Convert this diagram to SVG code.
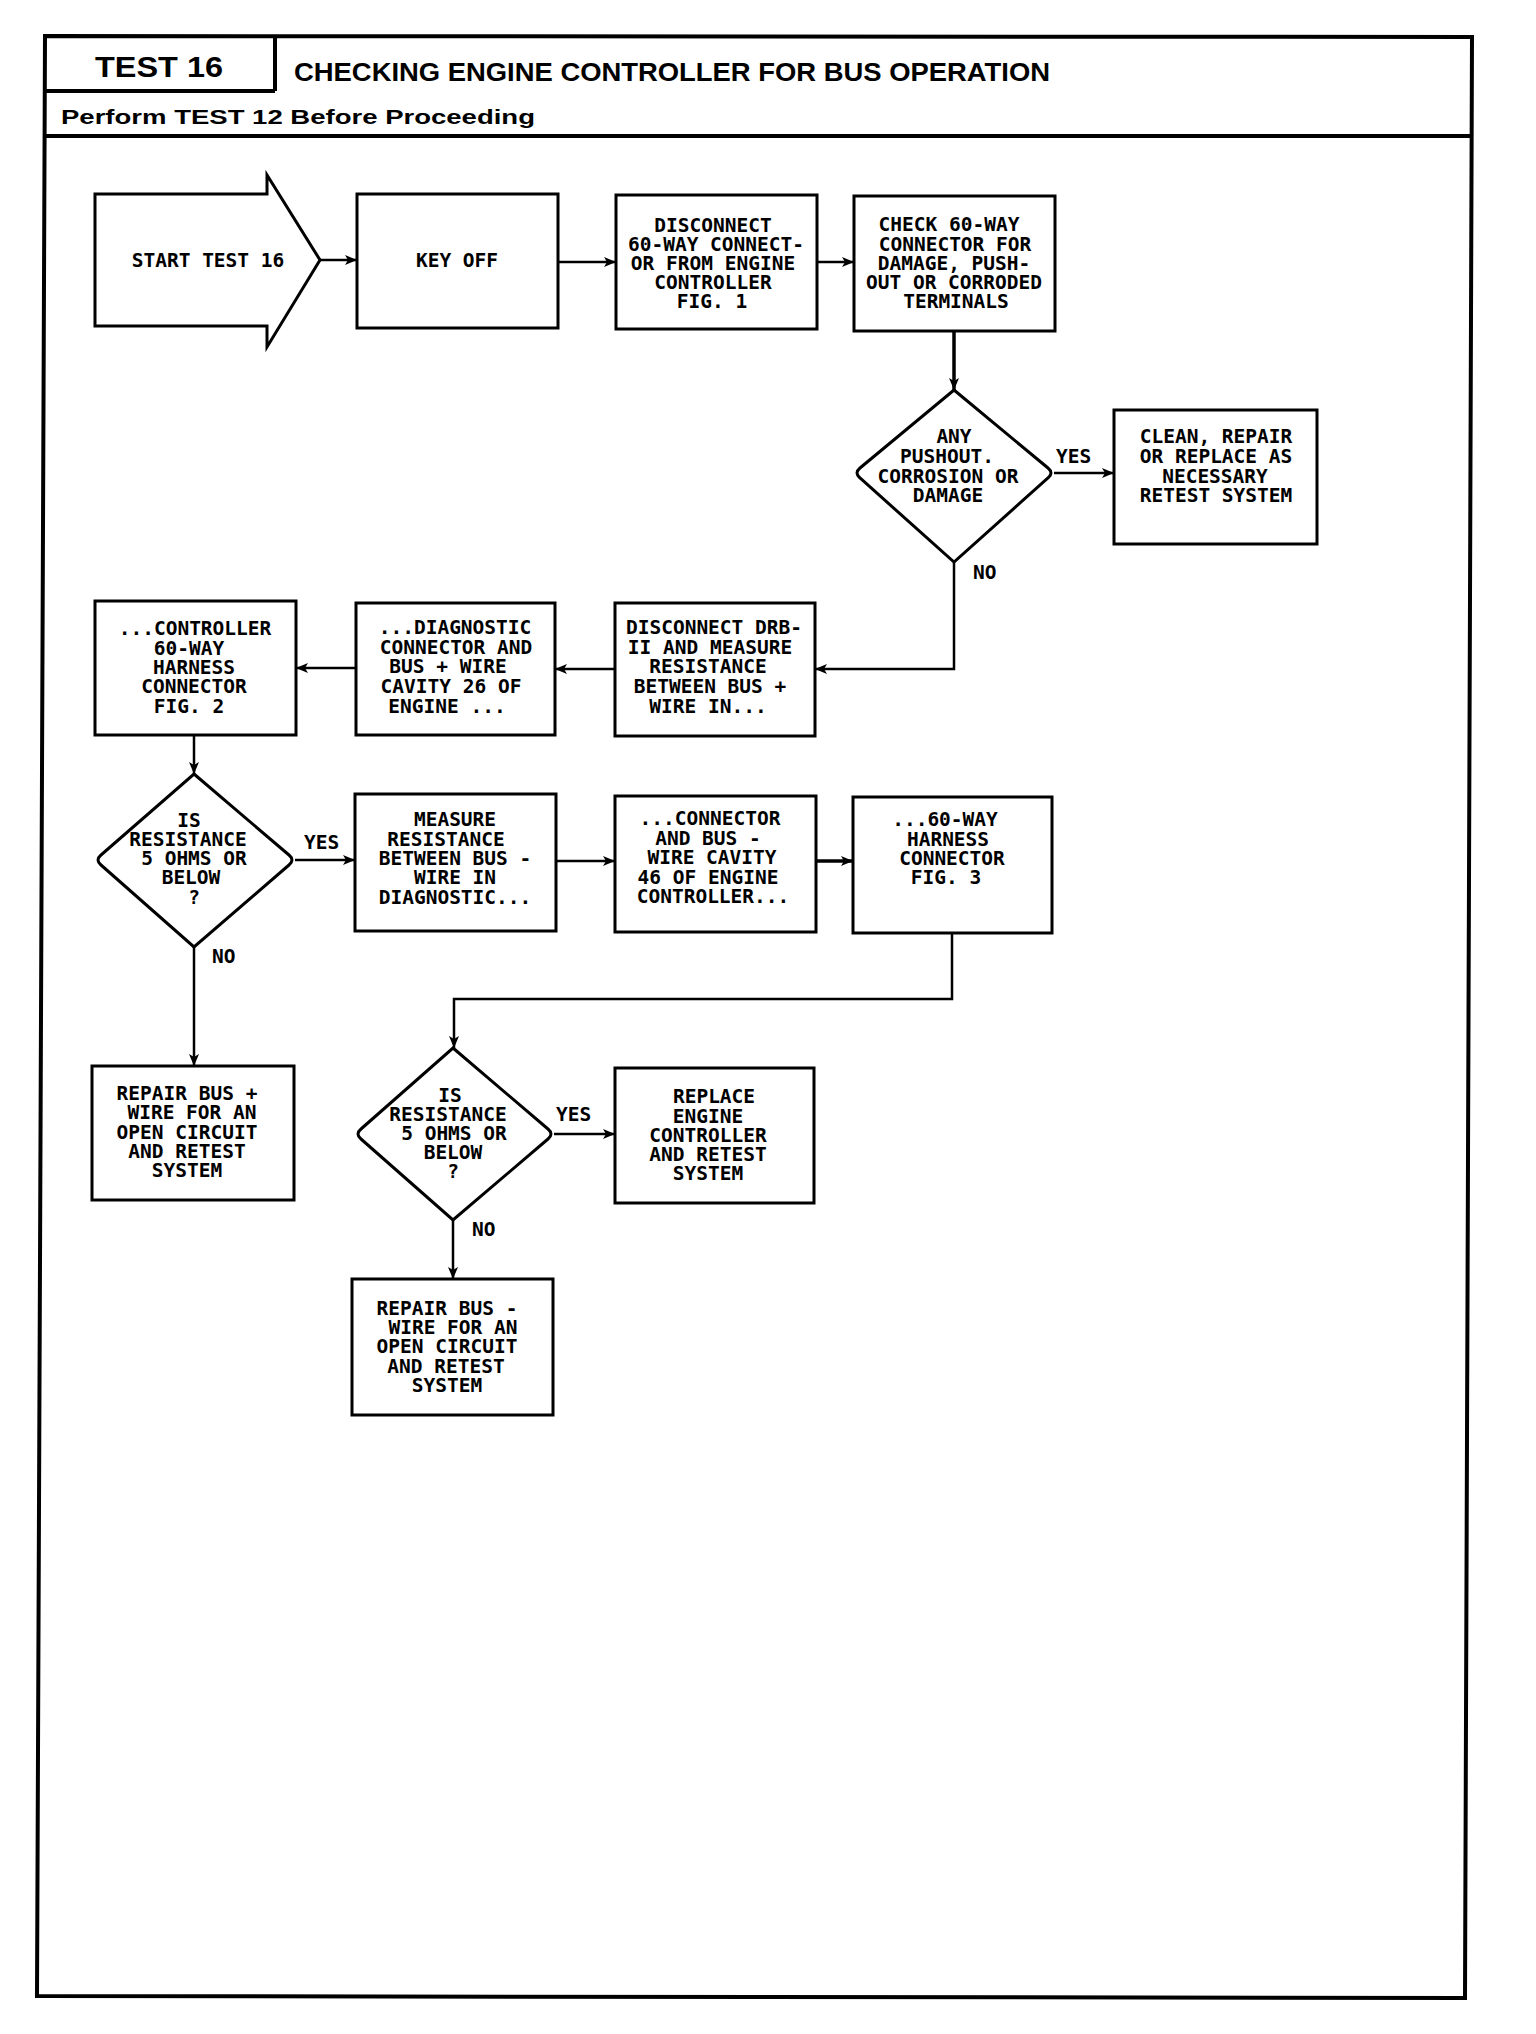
<svg xmlns="http://www.w3.org/2000/svg" width="1536" height="2034" viewBox="0 0 1536 2034">
<style>
.frame{fill:none;stroke:#000;stroke-width:4}
.box{fill:none;stroke:#000;stroke-width:3}
.t{font-family:"DejaVu Sans Mono","Liberation Mono",monospace;font-size:19.5px;font-weight:bold;text-anchor:middle;fill:#000}
.lbl{font-family:"DejaVu Sans Mono","Liberation Mono",monospace;font-size:19.5px;font-weight:bold;fill:#000}
.hd{font-family:"Liberation Sans",Arial,sans-serif;font-weight:bold;fill:#000}
#connectors path{fill:none;stroke:#000;stroke-width:2.5}
</style>
<defs>
<marker id="arr" markerUnits="userSpaceOnUse" markerWidth="14" markerHeight="12" refX="12" refY="6" orient="auto">
<path d="M0,1 L12,6 L0,11 L3,6 Z" fill="#000"/>
</marker>
</defs>
<rect x="0" y="0" width="1536" height="2034" fill="#fff"/>
<g id="frame">
<path class="frame" d="M45,36 L1472,37 L1465,1998 L37,1996 Z"/>
<path class="frame" d="M275,36 L275,91 M44,91 L275,91 M44,136 L1472,136"/>
<text class="hd" x="95" y="77" font-size="30" textLength="128" lengthAdjust="spacingAndGlyphs">TEST 16</text>
<text class="hd" x="294" y="81" font-size="26.5" textLength="756" lengthAdjust="spacingAndGlyphs">CHECKING ENGINE CONTROLLER FOR BUS OPERATION</text>
<text class="hd" x="61" y="124" font-size="21" textLength="474" lengthAdjust="spacingAndGlyphs">Perform TEST 12 Before Proceeding</text>
</g>
<g id="connectors">
<path d="M320,260 L357,260" marker-end="url(#arr)"/>
<path d="M558,262 L616,262" marker-end="url(#arr)"/>
<path d="M817,262 L854,262" marker-end="url(#arr)"/>
<path d="M954,331 L954,390" marker-end="url(#arr)" style="stroke-width:3.5"/>
<path d="M1054,473 L1114,473" marker-end="url(#arr)"/>
<path d="M954,562 L954,669 L815,669" marker-end="url(#arr)"/>
<path d="M615,669 L555,669" marker-end="url(#arr)"/>
<path d="M356,668 L296,668" marker-end="url(#arr)"/>
<path d="M194,735 L194,774" marker-end="url(#arr)"/>
<path d="M295,860 L355,860" marker-end="url(#arr)"/>
<path d="M556,861 L615,861" marker-end="url(#arr)"/>
<path d="M816,861 L853,861" marker-end="url(#arr)" style="stroke-width:3.5"/>
<path d="M952,933 L952,999 L454,999 L454,1048" marker-end="url(#arr)"/>
<path d="M194,947 L194,1066" marker-end="url(#arr)"/>
<path d="M554,1134 L615,1134" marker-end="url(#arr)"/>
<path d="M453,1220 L453,1279" marker-end="url(#arr)"/>
<text class="lbl" x="1056" y="463">YES</text>
<text class="lbl" x="973" y="579">NO</text>
<text class="lbl" x="304" y="849">YES</text>
<text class="lbl" x="212" y="963">NO</text>
<text class="lbl" x="556" y="1121">YES</text>
<text class="lbl" x="472" y="1236">NO</text>
</g>
<g id="start">
<path class="box" d="M95,194 L267,194 L267,175 L320,260 L267,347 L267,326 L95,326 Z"/>
<text class="t" x="208" y="267">START TEST 16</text>
</g>
<g id="keyoff">
<rect class="box" x="357" y="194" width="201" height="134"/>
<text class="t" x="457" y="267">KEY OFF</text>
</g>
<g id="disconnect60">
<rect class="box" x="616" y="195" width="201" height="134"/>
<text class="t"><tspan x="713" y="232">DISCONNECT</tspan><tspan x="716" y="251">60-WAY CONNECT-</tspan><tspan x="713" y="270">OR FROM ENGINE</tspan><tspan x="713" y="289">CONTROLLER</tspan><tspan x="712" y="308">FIG. 1</tspan></text>
</g>
<g id="check60">
<rect class="box" x="854" y="196" width="201" height="135"/>
<text class="t"><tspan x="949" y="231">CHECK 60-WAY</tspan><tspan x="955" y="251">CONNECTOR FOR</tspan><tspan x="954" y="270">DAMAGE, PUSH-</tspan><tspan x="954" y="289">OUT OR CORRODED</tspan><tspan x="956" y="308">TERMINALS</tspan></text>
</g>
<g id="dec1">
<path class="box" d="M954,390 L1048,468 Q1054,473 1048,478 L954,562 L860,478 Q854,473 860,468 Z"/>
<text class="t"><tspan x="954" y="443">ANY</tspan><tspan x="947" y="463">PUSHOUT.</tspan><tspan x="948" y="483">CORROSION OR</tspan><tspan x="948" y="502">DAMAGE</tspan></text>
</g>
<g id="clean">
<rect class="box" x="1114" y="410" width="203" height="134"/>
<text class="t"><tspan x="1216" y="443">CLEAN, REPAIR</tspan><tspan x="1216" y="463">OR REPLACE AS</tspan><tspan x="1215" y="483">NECESSARY</tspan><tspan x="1216" y="502">RETEST SYSTEM</tspan></text>
</g>
<g id="drb">
<rect class="box" x="615" y="603" width="200" height="133"/>
<text class="t"><tspan x="714" y="634">DISCONNECT DRB-</tspan><tspan x="710" y="654">II AND MEASURE</tspan><tspan x="708" y="673">RESISTANCE</tspan><tspan x="710" y="693">BETWEEN BUS +</tspan><tspan x="708" y="713">WIRE IN...</tspan></text>
</g>
<g id="diag">
<rect class="box" x="356" y="603" width="199" height="132"/>
<text class="t"><tspan x="455" y="634">...DIAGNOSTIC</tspan><tspan x="456" y="654">CONNECTOR AND</tspan><tspan x="448" y="673">BUS + WIRE</tspan><tspan x="451" y="693">CAVITY 26 OF</tspan><tspan x="447" y="713">ENGINE ...</tspan></text>
</g>
<g id="ctrl">
<rect class="box" x="95" y="601" width="201" height="134"/>
<text class="t"><tspan x="195" y="635">...CONTROLLER</tspan><tspan x="189" y="655">60-WAY</tspan><tspan x="194" y="674">HARNESS</tspan><tspan x="194" y="693">CONNECTOR</tspan><tspan x="189" y="713">FIG. 2</tspan></text>
</g>
<g id="dec2">
<path class="box" d="M194,774 L289,855 Q295,860 289,865 L194,947 L101,865 Q95,860 101,855 Z"/>
<text class="t"><tspan x="189" y="827">IS</tspan><tspan x="188" y="846">RESISTANCE</tspan><tspan x="194" y="865">5 OHMS OR</tspan><tspan x="191" y="884">BELOW</tspan><tspan x="194" y="904">?</tspan></text>
</g>
<g id="measure">
<rect class="box" x="355" y="794" width="201" height="137"/>
<text class="t"><tspan x="455" y="826">MEASURE</tspan><tspan x="446" y="846">RESISTANCE</tspan><tspan x="455" y="865">BETWEEN BUS -</tspan><tspan x="455" y="884">WIRE IN</tspan><tspan x="455" y="904">DIAGNOSTIC...</tspan></text>
</g>
<g id="connector46">
<rect class="box" x="615" y="796" width="201" height="136"/>
<text class="t"><tspan x="710" y="825">...CONNECTOR</tspan><tspan x="708" y="845">AND BUS -</tspan><tspan x="712" y="864">WIRE CAVITY</tspan><tspan x="708" y="884">46 OF ENGINE</tspan><tspan x="713" y="903">CONTROLLER...</tspan></text>
</g>
<g id="fig3">
<rect class="box" x="853" y="797" width="199" height="136"/>
<text class="t"><tspan x="945" y="826">...60-WAY</tspan><tspan x="948" y="846">HARNESS</tspan><tspan x="952" y="865">CONNECTOR</tspan><tspan x="946" y="884">FIG. 3</tspan></text>
</g>
<g id="repairplus">
<rect class="box" x="92" y="1066" width="202" height="134"/>
<text class="t"><tspan x="187" y="1100">REPAIR BUS +</tspan><tspan x="192" y="1119">WIRE FOR AN</tspan><tspan x="187" y="1139">OPEN CIRCUIT</tspan><tspan x="187" y="1158">AND RETEST</tspan><tspan x="187" y="1177">SYSTEM</tspan></text>
</g>
<g id="dec3">
<path class="box" d="M453,1048 L548,1129 Q554,1134 548,1139 L453,1220 L361,1139 Q355,1134 361,1129 Z"/>
<text class="t"><tspan x="450" y="1102">IS</tspan><tspan x="448" y="1121">RESISTANCE</tspan><tspan x="454" y="1140">5 OHMS OR</tspan><tspan x="453" y="1159">BELOW</tspan><tspan x="453" y="1178">?</tspan></text>
</g>
<g id="replace">
<rect class="box" x="615" y="1068" width="199" height="135"/>
<text class="t"><tspan x="714" y="1103">REPLACE</tspan><tspan x="708" y="1123">ENGINE</tspan><tspan x="708" y="1142">CONTROLLER</tspan><tspan x="708" y="1161">AND RETEST</tspan><tspan x="708" y="1180">SYSTEM</tspan></text>
</g>
<g id="repairminus">
<rect class="box" x="352" y="1279" width="201" height="136"/>
<text class="t"><tspan x="447" y="1315">REPAIR BUS -</tspan><tspan x="453" y="1334">WIRE FOR AN</tspan><tspan x="447" y="1353">OPEN CIRCUIT</tspan><tspan x="446" y="1373">AND RETEST</tspan><tspan x="447" y="1392">SYSTEM</tspan></text>
</g>
</svg>
